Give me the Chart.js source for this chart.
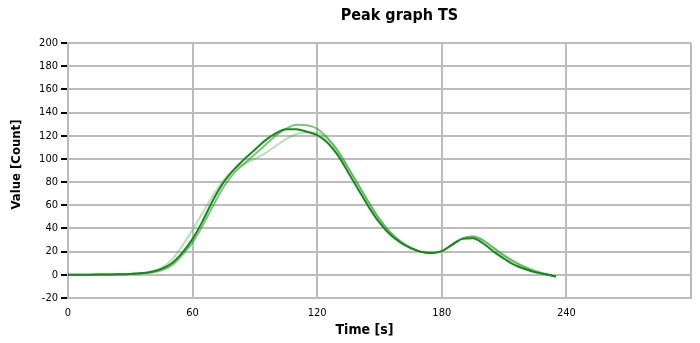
<!DOCTYPE html>
<html>
<head>
<meta charset="utf-8">
<title>Peak graph TS</title>
<script src="https://cdn.jsdelivr.net/npm/chart.js@4.4.1/dist/chart.umd.min.js"></script>
<style>
    html, body { margin: 0; padding: 0; background: #fff; }
    #wrap { width: 700px; height: 343px; position: relative; }
</style>
</head>
<body>
<div id="wrap"><canvas id="peak-chart"></canvas></div>
<script>
// Tempo em segundos (eixo X)
const tempo = [0, 5, 10, 15, 20, 25, 30, 35, 40, 45, 50, 55, 60, 65, 70, 75, 80, 85, 90, 95,
    100, 105, 110, 115, 120, 125, 130, 135, 140, 145, 150, 155, 160, 165, 170, 175, 180,
    185, 190, 195, 200, 205, 210, 215, 220, 225, 230, 235];

// Contagens de cada corrida
const corridaA = [0, 0, 0.1, 0.2, 0.3, 0.5, 0.8, 1.3, 2.5, 5, 10, 19, 31, 47, 65, 80, 91, 100, 108, 116,
    122, 125.5, 125.5, 123.5, 120.5, 114, 103, 88, 73, 58, 45, 35, 28, 23, 19.8, 18.8, 20.5,
    26, 31, 31.5, 27, 20, 14, 8.5, 5, 2.2, 0.5, -1.5];
const corridaB = [0, 0, 0.1, 0.2, 0.3, 0.5, 0.8, 1.2, 2, 4, 8, 17, 28, 43, 60, 76, 88, 96, 104, 112,
    120, 126, 129.5, 129, 126, 118, 107, 92, 77, 62, 48, 37, 29, 23.5, 20, 19, 20.5,
    26, 31.5, 33, 29.5, 23, 16.5, 11, 6.5, 3, 0.5, -1.5];
const corridaC = [0, 0, 0.1, 0.2, 0.3, 0.5, 0.8, 1.3, 3, 6, 13, 25, 39, 54, 69, 82, 91, 96, 100, 105,
    111, 117, 121.5, 123, 122.5, 117, 106, 92, 77, 62, 48, 37, 29, 23.5, 20, 19, 20.5,
    26, 31.5, 33, 30, 23.5, 17, 11.5, 7, 3.5, 1, -1.5];

// Marcas dos eixos
const ticksX = [0, 60, 120, 180, 240];
const FONTE = '"DejaVu Sans Condensed", "DejaVu Sans", sans-serif';

function pontos(valores) {
    return tempo.map((t, i) => ({ x: t, y: valores[i] }));
}

// Títulos desenhados à mão para ficarem na mesma posição do gráfico original
const titulos = {
    id: 'titulos',
    afterDraw(chart) {
        const { ctx, chartArea } = chart;
        const cx = (chartArea.left + chartArea.right) / 2;
        ctx.save();
        ctx.fillStyle = '#000';
        ctx.textAlign = 'center';
        ctx.textBaseline = 'middle';
        ctx.font = 'bold 16px ' + FONTE;
        ctx.fillText('Peak graph TS', cx + 20, 16);
        ctx.font = 'bold 14px ' + FONTE;
        ctx.fillText('Time [s]', cx - 15, 330);
        ctx.translate(17, (chartArea.top + chartArea.bottom) / 2 - 6);
        ctx.rotate(-Math.PI / 2);
        ctx.font = 'bold 13px ' + FONTE;
        ctx.fillText('Value [Count]', 0, 0);
        ctx.restore();
    }
};

const serie = (label, valores, cor, largura) => ({
    label,
    data: pontos(valores),
    borderColor: cor,
    borderWidth: largura,
    pointRadius: 0,
    fill: false,
    cubicInterpolationMode: 'monotone'
});

new Chart(document.getElementById('peak-chart'), {
    type: 'line',
    data: {
        datasets: [
            serie('A', corridaA, '#17891a', 2),
            serie('B', corridaB, 'rgba(40, 155, 40, 0.6)', 2),
            serie('C', corridaC, 'rgba(70, 170, 70, 0.38)', 2)
        ]
    },
    options: {
        responsive: true,
        maintainAspectRatio: false,
        animation: false,
        layout: { padding: { left: 0, right: 8, top: 43, bottom: 0 } },
        plugins: {
            legend: { display: false },
            tooltip: { enabled: false },
            title: { display: false }
        },
        scales: {
            x: {
                type: 'linear',
                min: 0,
                max: 300,
                afterFit: (s) => { s.height = 45; },
                afterBuildTicks: (s) => { s.ticks = [...ticksX, 300].map(v => ({ value: v })); },
                ticks: {
                    color: '#000',
                    padding: 9,
                    maxRotation: 0,
                    font: { family: FONTE, size: 11 },
                    callback: (v) => ticksX.includes(v) ? String(v) : ''
                },
                grid: { color: '#bcbcbc', lineWidth: 2, drawTicks: false },
                border: { color: '#bcbcbc', width: 2 }
            },
            y: {
                min: -20,
                max: 200,
                afterFit: (s) => { s.width = 68; },
                ticks: {
                    stepSize: 20,
                    color: '#000',
                    padding: 3,
                    font: { family: FONTE, size: 11 }
                },
                grid: {
                    color: '#bcbcbc',
                    lineWidth: 2,
                    tickColor: '#000',
                    tickWidth: 2,
                    tickLength: 7
                },
                border: { color: '#bcbcbc', width: 2 }
            }
        }
    },
    plugins: [titulos]
});
</script>
</body>
</html>
